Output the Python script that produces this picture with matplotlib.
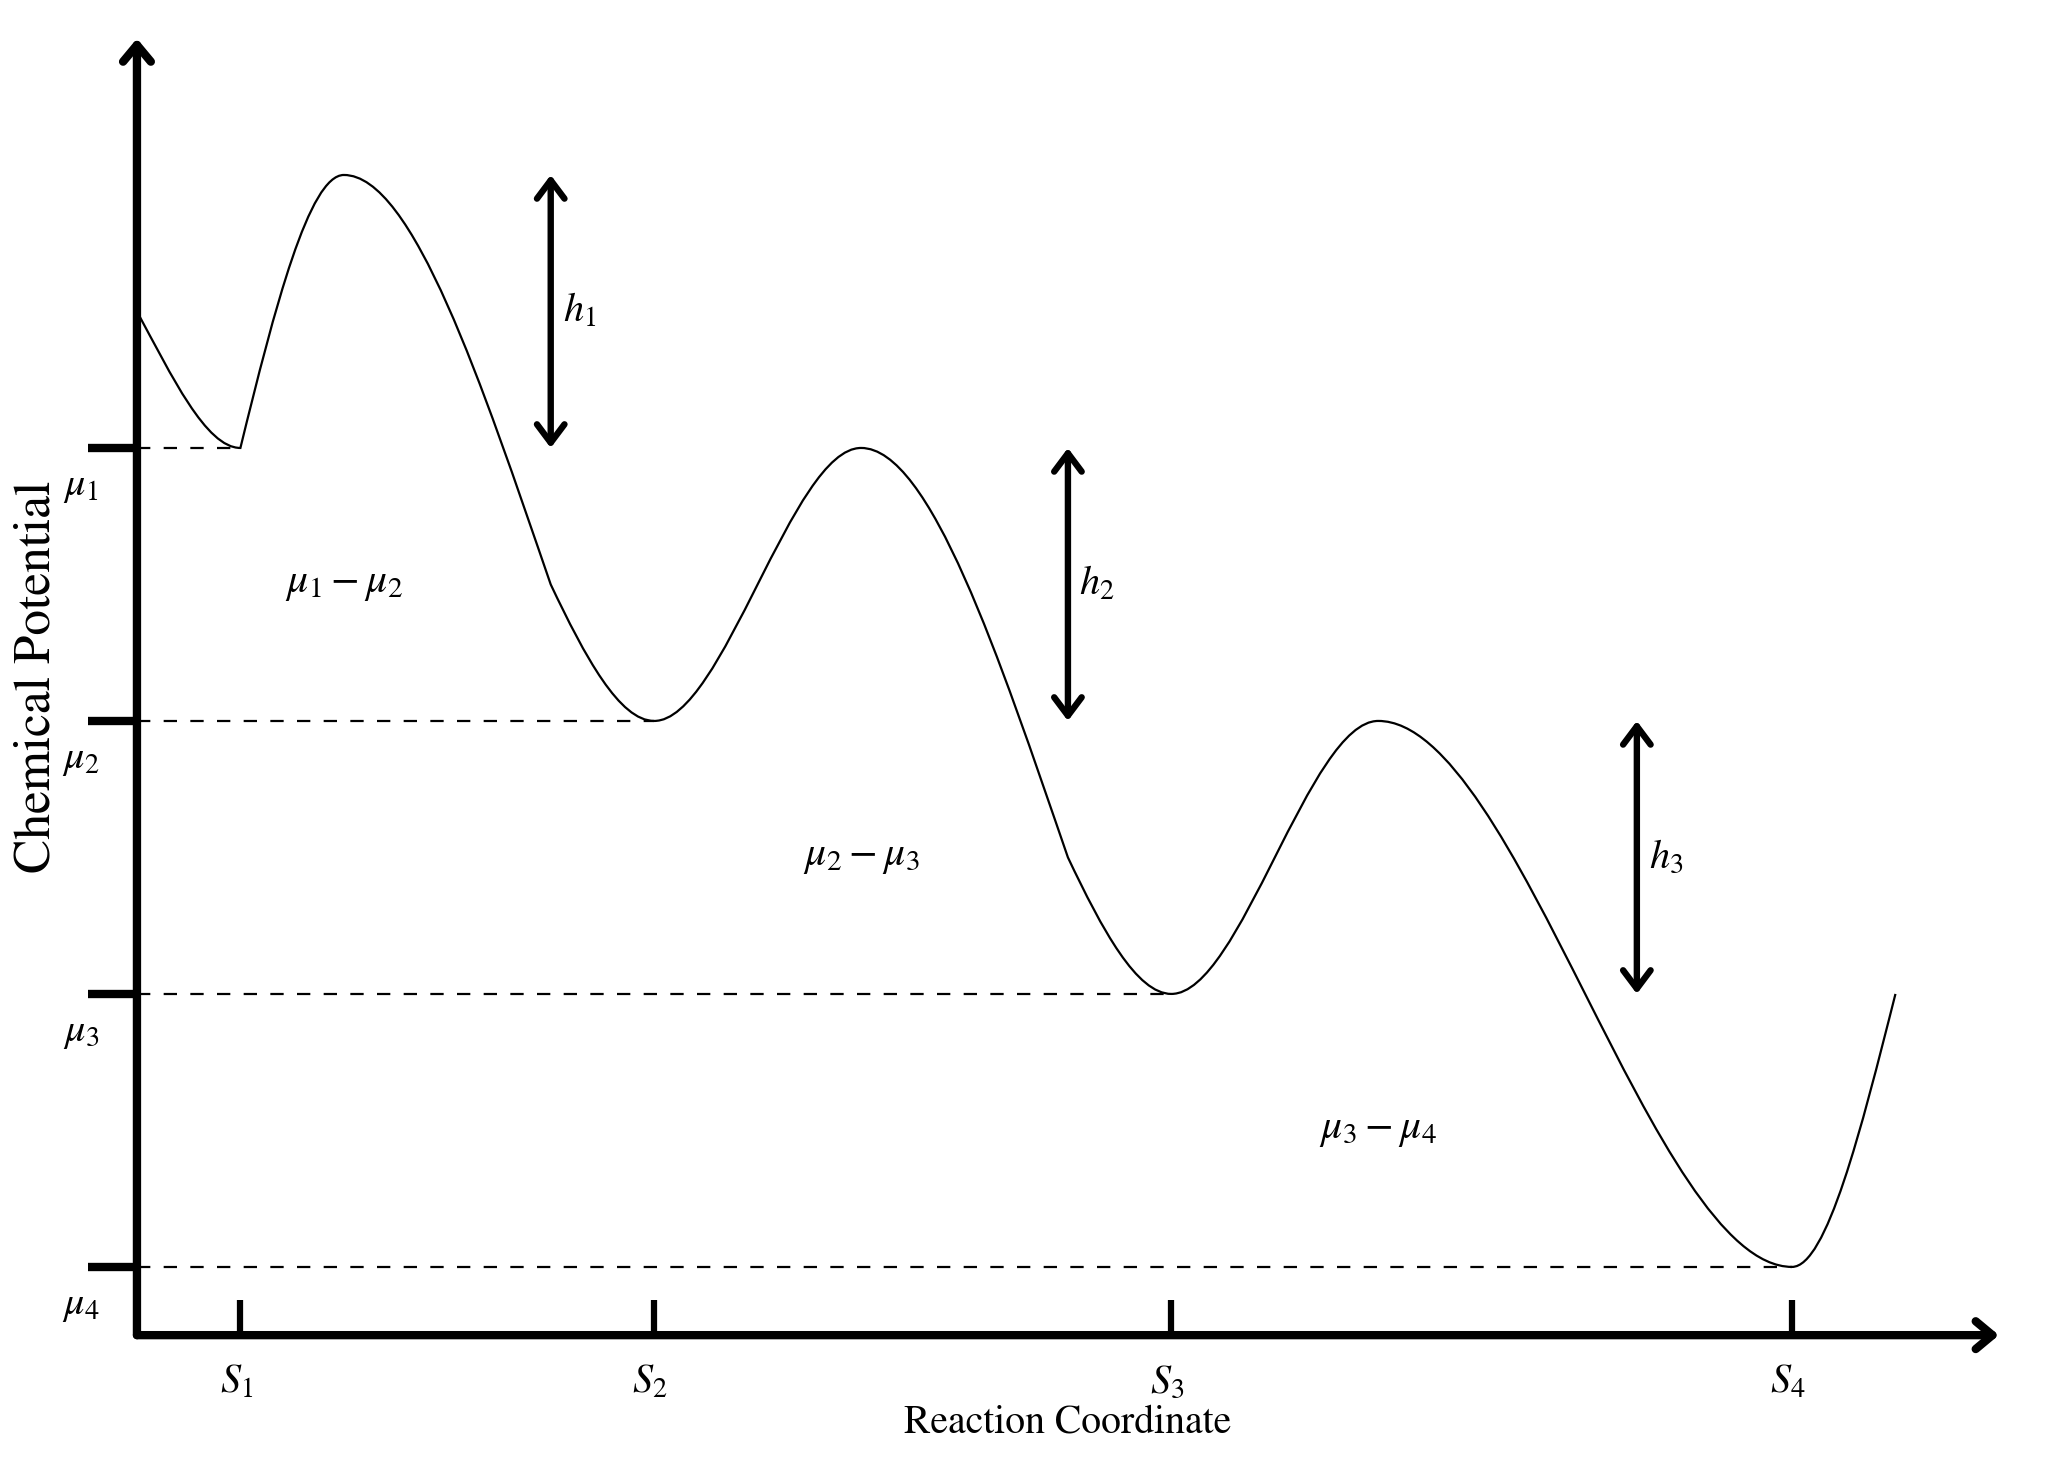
#!/usr/bin/env python3
"""
Chemical potential along a reaction coordinate: a schematic energy landscape
with successive wells S1..S4, barrier heights h1..h3 and well depths mu1..mu4.
"""

import matplotlib
matplotlib.use("Agg")
import matplotlib.pyplot as plt
from matplotlib.path import Path
from matplotlib.patches import PathPatch, FancyArrowPatch

# Well levels (chemical potential) and their labels
mu_levels = [4.0, 3.0, 2.0, 1.0]
mu_labels = [r"$\mu_1$", r"$\mu_2$", r"$\mu_3$", r"$\mu_4$"]

# States along the reaction coordinate
s_pos = [0.5, 2.5, 5.0, 8.0]
s_labels = [r"$S_1$", r"$S_2$", r"$S_3$", r"$S_4$"]

# Barrier arrows h_i (x position, top, bottom)
h_x = [2.0, 4.5, 7.25]
h_top = [5.0, 4.0, 3.0]
h_bottom = [4.0, 3.0, 2.0]
h_labels = [r"$h_1$", r"$h_2$", r"$h_3$"]

# Potential differences written between wells
diff_x = [1.0, 3.5, 6.0]
diff_y = [3.5, 2.5, 1.5]
diff_labels = [r"$\mu_1-\mu_2$", r"$\mu_2-\mu_3$", r"$\mu_3-\mu_4$"]

# Curve knots, with slope arriving and slope leaving
knot_x = [0.0, 0.5, 1.0, 2.0, 2.5, 3.5, 4.5, 5.0, 6.0, 8.0, 8.5]
knot_y = [4.5, 4.0, 5.0, 3.5, 3.0, 4.0, 2.5, 2.0, 3.0, 1.0, 2.0]
slope_in = [0.0, 0.0, 0.0, -2.2, 0.0, 0.0, -2.2, 0.0, 0.0, 0.0, 3.0]
slope_out = [-1.4, 3.1, 0.0, -1.6, 0.0, 0.0, -1.6, 0.0, 0.0, 0.0, 0.0]

AXIS_Y = 0.75
AXIS_TOP = 5.5
AXIS_RIGHT = 9.0

plt.rcParams["mathtext.fontset"] = "stix"
plt.rcParams["font.family"] = "STIXGeneral"


def curve_path():
    """Cubic Bezier path through the knots (Hermite slopes -> control points)."""
    verts = [(knot_x[0], knot_y[0])]
    codes = [Path.MOVETO]
    for i in range(len(knot_x) - 1):
        x0, y0, m0 = knot_x[i], knot_y[i], slope_out[i]
        x1, y1, m1 = knot_x[i + 1], knot_y[i + 1], slope_in[i + 1]
        h = x1 - x0
        verts += [(x0 + h / 3, y0 + m0 * h / 3), (x1 - h / 3, y1 - m1 * h / 3), (x1, y1)]
        codes += [Path.CURVE4] * 3
    return Path(verts, codes)


fig = plt.figure(figsize=(20.56, 14.67), dpi=100)
ax = fig.add_axes([0, 0, 1, 1])
ax.set_xlim(-0.662, 9.276)
ax.set_ylim(0.267, 5.641)
ax.axis("off")

# Axes with open arrow heads
for start, end in [((0, AXIS_Y), (0, AXIS_TOP)), ((0, AXIS_Y), (AXIS_RIGHT, AXIS_Y))]:
    ax.add_patch(FancyArrowPatch(
        start, end,
        arrowstyle="->,head_length=0.6,head_width=0.5",
        mutation_scale=20, lw=6, color="black",
        shrinkA=0, shrinkB=0, capstyle="round", joinstyle="round",
    ))

# Tick stubs
ax.hlines(mu_levels, -0.235, 0, colors="black", lw=6)
ax.vlines(s_pos, AXIS_Y, AXIS_Y + 0.13, colors="black", lw=4.5)

# Dashed level lines
ax.hlines(mu_levels, 0, s_pos, colors="black", lw=1.6, linestyles=(0, (6, 6)))

# Energy curve
ax.add_patch(PathPatch(curve_path(), facecolor="none", edgecolor="black", lw=1.6))

# Barrier arrows
for x, top, bot, lab in zip(h_x, h_top, h_bottom, h_labels):
    ax.add_patch(FancyArrowPatch(
        (x, bot), (x, top),
        arrowstyle="<->,head_length=0.6,head_width=0.45",
        mutation_scale=22, lw=4.6, color="black",
        shrinkA=0, shrinkB=0, capstyle="round", joinstyle="round",
    ))
    ax.text(x + 0.14, (top + bot) / 2, lab, fontsize=29, ha="center", va="center")

# Labels
for lvl, lab in zip(mu_levels, mu_labels):
    ax.text(-0.27, lvl - 0.14, lab, fontsize=29, ha="center", va="center")
for s, lab in zip(s_pos, s_labels):
    ax.text(s - 0.02, 0.575, lab, fontsize=29, ha="center", va="center")
for x, y, lab in zip(diff_x, diff_y, diff_labels):
    ax.text(x, y, lab, fontsize=30, ha="center", va="center")

ax.text(4.5, 0.43, "Reaction Coordinate", fontsize=28.5, ha="center", va="center")
ax.text(-0.48, 3.16, "Chemical Potential", fontsize=37, ha="center", va="center",
        rotation=90)

fig.savefig("out.png", dpi=100, facecolor="white")
